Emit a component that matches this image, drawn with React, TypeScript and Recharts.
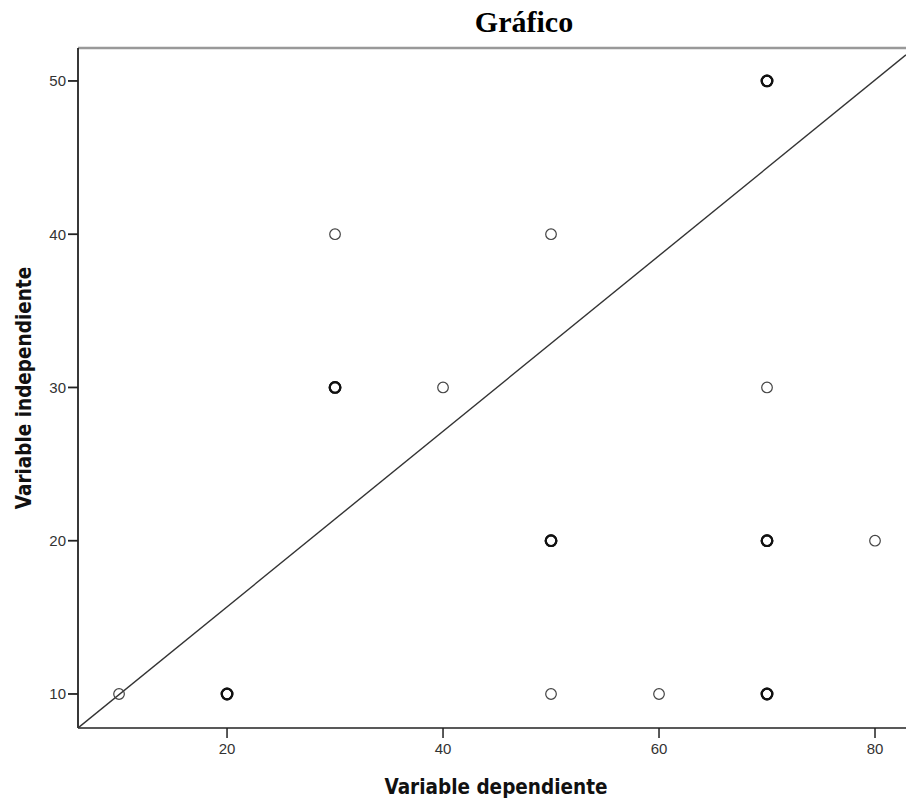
import { ScatterChart, Scatter, XAxis, YAxis, ReferenceLine } from 'recharts'

// Variable dependiente (x) / Variable independiente (y); repeated pairs are stacked cases
const depValues = [10, 20, 20, 30, 30, 30, 40, 50, 50, 50, 50, 60, 70, 70, 70, 70, 70, 70, 70, 80]
const indValues = [10, 10, 10, 40, 30, 30, 30, 40, 20, 20, 10, 10, 50, 50, 30, 20, 20, 10, 10, 20]

// reference line end points
const fitX = [6.2, 82.87]
const fitY = [7.78, 51.7]

const xTicks = [20, 40, 60, 80]
const yTicks = [10, 20, 30, 40, 50]
const xDomain = [6.2, 82.87]
const yDomain = [7.78, 52.15]

const points = depValues.map((x, i) => ({ x, y: indValues[i] }))
const fitLine = fitX.map((x, i) => ({ x, y: fitY[i] }))

// how many cases sit on the same spot (drawn darker in the original)
const stackCount = (x: number, y: number) =>
  depValues.filter((d, i) => d === x && indValues[i] === y).length

const tickStyle = { fill: '#333', fontSize: 15, fontFamily: '"Liberation Sans", Arial, sans-serif' }
const labelFont = '"DejaVu Sans Condensed", "DejaVu Sans", sans-serif'

function Ring(props: any) {
  const { cx, cy, payload } = props
  if (cx == null || cy == null) return <g />
  const heavy = payload && stackCount(payload.x, payload.y) > 1
  return (
    <circle
      cx={cx}
      cy={cy}
      r={5.3}
      fill="none"
      stroke={heavy ? '#111' : '#444'}
      strokeWidth={heavy ? 2.2 : 1.2}
    />
  )
}

function XLabel(props: any) {
  const vb = props.viewBox
  if (!vb) return null
  return (
    <text
      x={vb.x + vb.width / 2 + 4}
      y={vb.y + 66}
      textAnchor="middle"
      fontFamily={labelFont}
      fontWeight="bold"
      fontSize={20.5}
      fill="#111"
    >
      Variable dependiente
    </text>
  )
}

function YLabel(props: any) {
  const vb = props.viewBox
  if (!vb) return null
  const cx = vb.x + 24
  const cy = vb.y + vb.height / 2
  return (
    <text
      x={cx}
      y={cy}
      transform={`rotate(-90 ${cx} ${cy})`}
      textAnchor="middle"
      dominantBaseline="central"
      fontFamily={labelFont}
      fontWeight="bold"
      fontSize={20.5}
      fill="#111"
    >
      Variable independiente
    </text>
  )
}

export default function App() {
  return (
    <div style={{ position: 'absolute', left: 0, top: 0, width: 906, height: 800, background: '#fff' }}>
      <div
        style={{
          position: 'absolute',
          left: 424,
          top: 7,
          width: 200,
          textAlign: 'center',
          fontFamily: '"Liberation Serif", "Times New Roman", serif',
          fontWeight: 'bold',
          fontSize: 30,
          lineHeight: '30px',
          color: '#000',
        }}
      >
        Gráfico
      </div>
      <ScatterChart width={906} height={800} margin={{ top: 48, right: 0, bottom: 0, left: 0 }}>
        <XAxis
          type="number"
          dataKey="x"
          domain={xDomain}
          ticks={xTicks}
          allowDataOverflow
          height={72}
          stroke="#222"
          strokeWidth={1.5}
          tickSize={10}
          tickMargin={5}
          tick={tickStyle}
          label={<XLabel />}
        />
        <YAxis
          type="number"
          dataKey="y"
          domain={yDomain}
          ticks={yTicks}
          allowDataOverflow
          width={78}
          stroke="#222"
          strokeWidth={1.8}
          tickSize={10}
          tickMargin={2}
          tick={tickStyle}
          label={<YLabel />}
        />
        <ReferenceLine y={yDomain[1]} stroke="#999" strokeWidth={2.5} />
        <Scatter
          data={fitLine}
          line={{ stroke: '#333', strokeWidth: 1.4 }}
          shape={() => <g />}
          isAnimationActive={false}
        />
        <Scatter data={points} shape={<Ring />} isAnimationActive={false} />
      </ScatterChart>
    </div>
  )
}
